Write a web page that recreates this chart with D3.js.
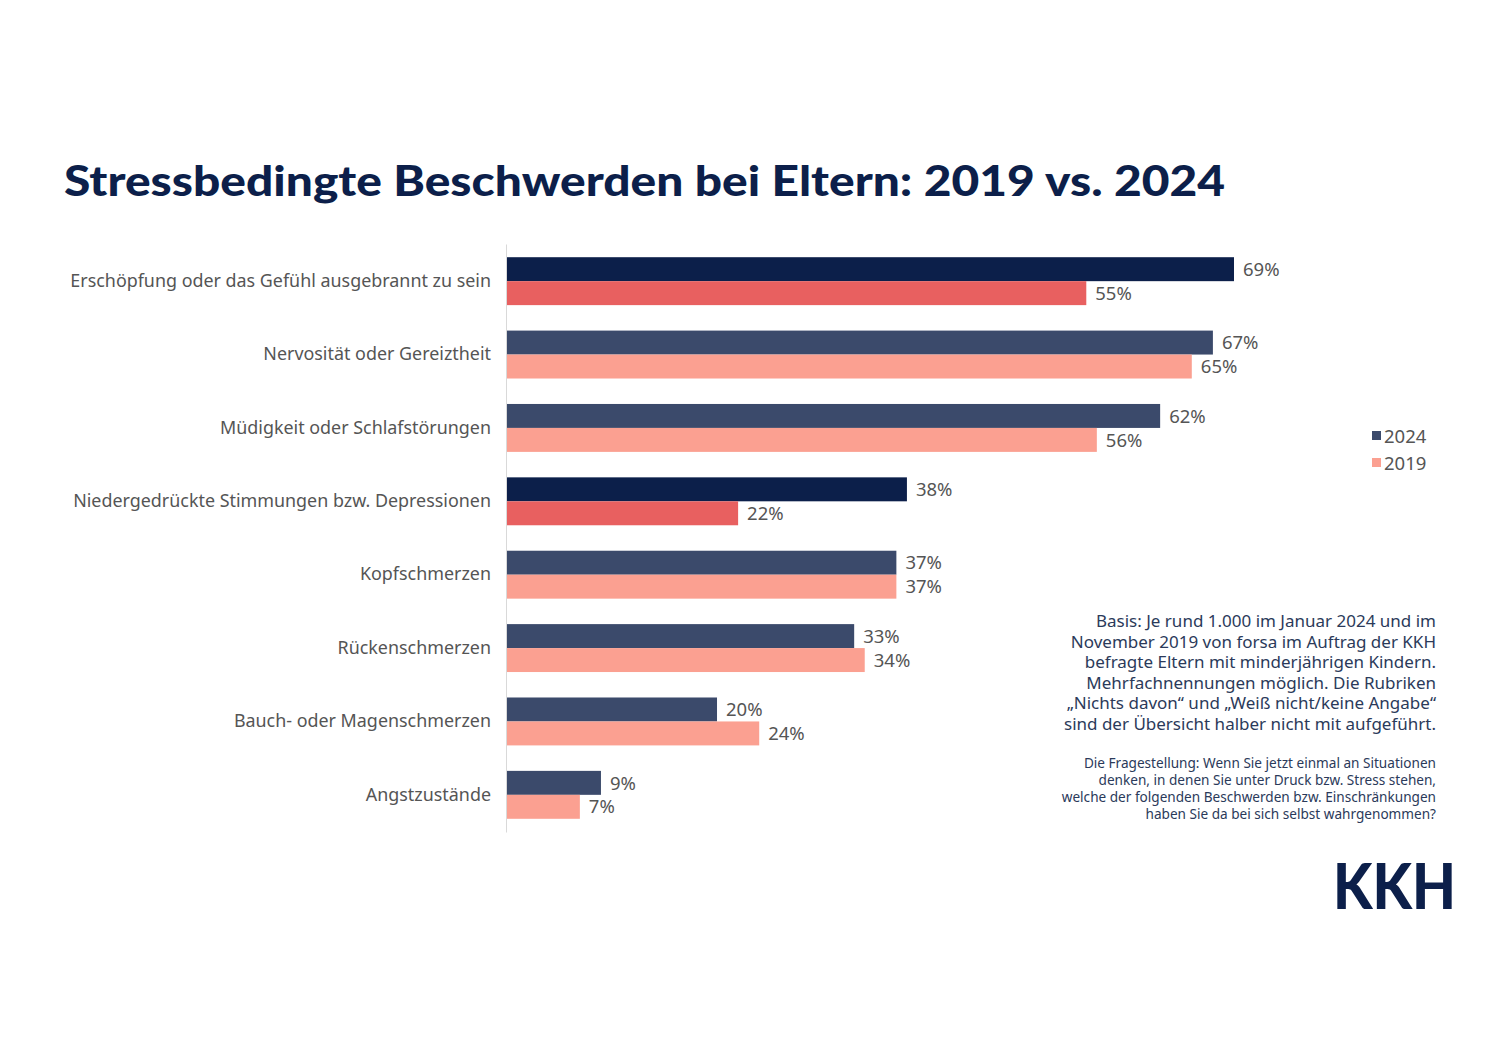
<!DOCTYPE html>
<html><head><meta charset="utf-8">
<script src="https://cdn.jsdelivr.net/npm/d3@7"></script>
<style>body{margin:0;background:#fff}svg{display:block}</style>
</head><body>
<script>
const categories = ["Erschöpfung oder das Gefühl ausgebrannt zu sein","Nervosität oder Gereiztheit","Müdigkeit oder Schlafstörungen","Niedergedrückte Stimmungen bzw. Depressionen","Kopfschmerzen","Rückenschmerzen","Bauch- oder Magenschmerzen","Angstzustände"];
const values2024 = [69,67,62,38,37,33,20,9];
const values2019 = [55,65,56,22,37,34,24,7];
const highlighted = [true,false,false,true,false,false,false,false];
const seriesNames = ["2024","2019"];
const titleText = "Stressbedingte Beschwerden bei Eltern: 2019 vs. 2024";
const noteLines = ["Basis: Je rund 1.000 im Januar 2024 und im","November 2019 von forsa im Auftrag der KKH","befragte Eltern mit minderjährigen Kindern.","Mehrfachnennungen möglich. Die Rubriken","„Nichts davon“ und „Weiß nicht/keine Angabe“","sind der Übersicht halber nicht mit aufgeführt."];
const questionLines = ["Die Fragestellung: Wenn Sie jetzt einmal an Situationen","denken, in denen Sie unter Druck bzw. Stress stehen,","welche der folgenden Beschwerden bzw. Einschränkungen","haben Sie da bei sich selbst wahrgenommen?"];

const W=1500,H=1060;
const svg=d3.select("body").append("svg").attr("width",W).attr("height",H);
const font="'Noto Sans', sans-serif";

svg.append("text").attr("x",64).attr("y",196).text(titleText)
  .attr("font-family","Lato, sans-serif").attr("font-weight",900).attr("font-size",42)
  .attr("fill","#0c1f4a").attr("textLength",1161).attr("lengthAdjust","spacingAndGlyphs");

const x0=506;
const x=d3.scaleLinear().domain([0,69]).range([x0,1234]);
const y=d3.scaleBand().domain(categories).range([244,832]).paddingInner(0.347).paddingOuter(0.18);
const sub=d3.scaleBand().domain(seriesNames).range([0,y.bandwidth()]);

const colors={"2024":["#3b4a6b","#0c1f4a"],"2019":["#fba091","#e86060"]};

const g=svg.append("g");
categories.forEach((c,i)=>{
  const vals={"2024":values2024[i],"2019":values2019[i]};
  seriesNames.forEach(s=>{
    g.append("rect").attr("x",x0).attr("y",y(c)+sub(s)).attr("width",x(vals[s])-x0).attr("height",sub.bandwidth())
      .attr("fill",colors[s][highlighted[i]?1:0]);
    g.append("text").attr("x",x(vals[s])+9).attr("y",y(c)+sub(s)+sub.bandwidth()/2).attr("dy","0.36em")
      .text(vals[s]+"%").attr("font-family",font).attr("font-size",18.5).attr("fill","#555");
  });
});

const yAxis=d3.axisLeft(y).tickSize(0).tickPadding(15);
const ax=svg.append("g").attr("transform",`translate(${x0},0)`).call(yAxis);
ax.select(".domain").attr("stroke","#d9d9d9").attr("stroke-width",1);
ax.selectAll("text").attr("font-family",font).attr("font-size",17.9).attr("fill","#555");

// legend
const leg=svg.append("g");
seriesNames.forEach((s,i)=>{
  const yy=436+i*27;
  leg.append("rect").attr("x",1372).attr("y",yy-5).attr("width",9).attr("height",9).attr("fill",colors[s][0]);
  leg.append("text").attr("x",1384).attr("y",yy).attr("dy","0.36em").text(s)
    .attr("font-family",font).attr("font-size",18.5).attr("fill","#555");
});

// notes
noteLines.forEach((t,i)=>{
  svg.append("text").attr("x",1436).attr("y",627+i*20.6).attr("text-anchor","end").text(t)
    .attr("font-family",font).attr("font-size",17).attr("fill","#2b3a5a");
});
questionLines.forEach((t,i)=>{
  svg.append("text").attr("x",1436).attr("y",768+i*17).attr("text-anchor","end").text(t)
    .attr("font-family",font).attr("font-size",13.6).attr("fill","#2b3a5a");
});

// logo
svg.append("text").attr("x",1333).attr("y",909).text("KKH")
  .attr("font-family","Lato, sans-serif").attr("font-weight",900).attr("font-size",62)
  .attr("fill","#0c1f4a").attr("textLength",123).attr("lengthAdjust","spacingAndGlyphs");
</script>
</body></html>
